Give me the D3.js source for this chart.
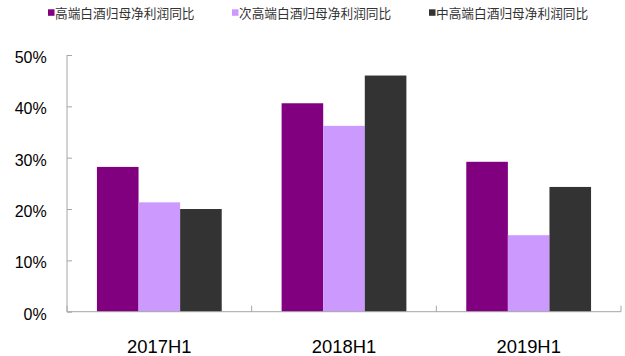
<!DOCTYPE html>
<html>
<head>
<meta charset="utf-8">
<script src="https://cdn.jsdelivr.net/npm/d3@7"></script>
<style>
  html, body { margin: 0; padding: 0; background: #fff; }
  svg { display: block; }
  .tick-label { font-family: "Liberation Sans", Arial, sans-serif; fill: #000; }
  .legend-label { font-family: "Noto Sans CJK SC", sans-serif; font-size: 12.7px; fill: #333; }
</style>
</head>
<body>
<svg id="chart" width="625" height="356"></svg>
<script>
(function () {
  // Data.
  const categories = ['2017H1', '2018H1', '2019H1'];
  const seriesNames = ['高端白酒归母净利润同比', '次高端白酒归母净利润同比', '中高端白酒归母净利润同比'];
  const seriesColors = ['#800080', '#cc99ff', '#333333'];
  const highEnd = [28.2, 40.6, 29.2];
  const subHighEnd = [21.3, 36.2, 14.9];
  const midHighEnd = [20.0, 46.0, 24.3];
  const yTicks = [0, 10, 20, 30, 40, 50];

  const series = [highEnd, subHighEnd, midHighEnd];

  const svg = d3.select('#chart');
  const mLeft = 67, mRight = 621, mTop = 55, mBottom = 311.7;

  const x = d3.scaleBand().domain(categories).range([mLeft, mRight]).paddingInner(0).paddingOuter(0);
  const inner = d3.scaleBand().domain(d3.range(series.length)).range([0, x.bandwidth()])
    .paddingOuter(0.72).paddingInner(0);
  const y = d3.scaleLinear().domain([0, 50]).range([mBottom, mTop]);

  // bars
  series.forEach((vals, si) => {
    svg.append('g').selectAll('rect').data(vals).join('rect')
      .attr('x', (d, i) => x(categories[i]) + inner(si))
      .attr('width', inner.bandwidth())
      .attr('y', (d) => y(d))
      .attr('height', (d) => y(0) - y(d))
      .attr('fill', seriesColors[si]);
  });

  // y axis
  const yAxis = svg.append('g').attr('transform', `translate(${mLeft},0)`)
    .call(d3.axisRight(y).tickValues(yTicks).tickSize(5).tickFormat(''));
  yAxis.select('.domain').attr('stroke', '#a6a6a6').attr('d', `M0,${mTop}V${mBottom}`);
  yAxis.selectAll('.tick line').attr('stroke', '#a6a6a6');
  svg.append('g').selectAll('text').data(yTicks).join('text')
    .attr('class', 'tick-label')
    .attr('x', 46.7)
    .attr('y', (d) => y(d) + 8)
    .attr('text-anchor', 'end')
    .attr('font-size', '16px')
    .text((d) => d + '%');

  // x axis
  const xAxis = svg.append('g').attr('transform', `translate(0,${mBottom})`);
  xAxis.append('path').attr('d', `M${mLeft},0H${mRight}`).attr('stroke', '#a6a6a6').attr('fill', 'none');
  const edges = categories.map((c) => x(c)).concat([mRight]);
  xAxis.selectAll('line').data(edges).join('line')
    .attr('x1', (d) => d).attr('x2', (d) => d)
    .attr('y1', 0).attr('y2', -6)
    .attr('stroke', '#a6a6a6');
  svg.append('g').selectAll('text').data(categories).join('text')
    .attr('class', 'tick-label')
    .attr('x', (d) => x(d) + x.bandwidth() / 2)
    .attr('y', 353.3)
    .attr('text-anchor', 'middle')
    .attr('font-size', '18.4px')
    .text((d) => d);

  // legend
  const legendX = [48, 232, 429];
  const legend = svg.append('g').selectAll('g').data(seriesNames).join('g')
    .attr('transform', (d, i) => `translate(${legendX[i]},0)`);
  legend.append('rect')
    .attr('x', 0).attr('y', 9.3).attr('width', 6.5).attr('height', 6.5)
    .attr('fill', (d, i) => seriesColors[i]);
  legend.append('text')
    .attr('class', 'legend-label')
    .attr('x', 7)
    .attr('y', 17.5)
    .text((d) => d);
})();
</script>
</body>
</html>
